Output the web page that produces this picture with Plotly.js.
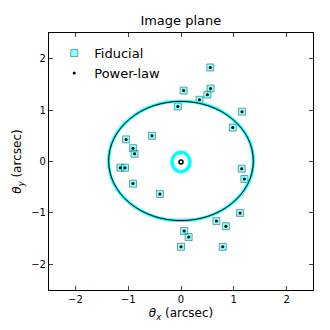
<!DOCTYPE html>
<html>
<head>
<meta charset="utf-8">
<script src="https://cdn.plot.ly/plotly-3.0.1.min.js"></script>
<style>body{margin:0;background:#fff}</style>
</head>
<body>
<div id="plane" style="width:330px;height:330px"></div>
<script>
// image positions (arcsec)
var fidX = [0.555, 0.05, 0.56, 0.50, 0.35, -0.06, 1.155, 0.98, -0.55, -1.04, -0.91, -0.88, -1.15, -1.06, 1.15, 1.20, -0.91, -0.40, 1.12, 0.67, 0.85, 0.06, 0.145, 0.0, 0.79];
var fidY = [1.83, 1.38, 1.42, 1.30, 1.20, 1.07, 0.97, 0.66, 0.50, 0.43, 0.26, 0.15, -0.12, -0.12, -0.14, -0.34, -0.43, -0.63, -1.00, -1.16, -1.26, -1.35, -1.47, -1.66, -1.66];
var plX = fidX.slice();
var plY = fidY.slice();
var srcX = [0.0];
var srcY = [-0.01];

// critical curve / caustic extents
var critX = [-1.37, 1.37];
var critY = [-1.15, 1.17];
var causX = [-0.17, 0.17];
var causY = [-0.2, 0.18];

var fiducial = {
    x: fidX, y: fidY,
    mode: 'markers', type: 'scatter', name: 'Fiducial',
    marker: {symbol: 'square', size: 7, color: 'rgba(0,255,255,0.45)',
             line: {color: 'rgba(0,80,80,0.5)', width: 1}}
};
var powerlaw = {
    x: plX, y: plY,
    mode: 'markers', type: 'scatter', name: 'Power-law',
    marker: {symbol: 'circle', size: 3, color: 'black'}
};
var source = {
    x: srcX, y: srcY,
    mode: 'markers', type: 'scatter', showlegend: false,
    marker: {symbol: 'circle-open', size: 4, color: 'black', line: {width: 1.5}}
};

var axisStyle = {
    range: [-2.5, 2.5], dtick: 1, ticks: 'inside', ticklen: 4,
    showline: true, linecolor: 'black', linewidth: 1.2, mirror: 'ticks',
    showgrid: false, zeroline: false, tickfont: {size: 10, color: 'black'}
};

var layout = {
    width: 330, height: 330,
    margin: {l: 49, r: 17, t: 33, b: 40},
    paper_bgcolor: 'white', plot_bgcolor: 'white',
    font: {family: 'DejaVu Sans', color: 'black'},
    title: {text: 'Image plane', font: {size: 13}, x: 0.548, xanchor: 'center', y: 0.925, yanchor: 'bottom'},
    xaxis: Object.assign({}, axisStyle, {title: {text: '<i>θ<sub>x</sub></i> (arcsec)', font: {size: 12}, standoff: 4}}),
    yaxis: Object.assign({}, axisStyle, {title: {text: '<i>θ<sub>y</sub></i> (arcsec)', font: {size: 12}, standoff: 6}}),
    legend: {x: 0.02, y: 0.98, xanchor: 'left', yanchor: 'top', bgcolor: 'rgba(0,0,0,0)',
             font: {size: 13}, tracegroupgap: 0, itemwidth: 30},
    shapes: [
        {type: 'circle', xref: 'x', yref: 'y', x0: critX[0], x1: critX[1], y0: critY[0], y1: critY[1],
         line: {color: 'cyan', width: 3}},
        {type: 'circle', xref: 'x', yref: 'y', x0: critX[0], x1: critX[1], y0: critY[0], y1: critY[1],
         line: {color: 'black', width: 1}},
        {type: 'circle', xref: 'x', yref: 'y', x0: causX[0], x1: causX[1], y0: causY[0], y1: causY[1],
         line: {color: 'cyan', width: 3.5}}
    ]
};

Plotly.newPlot('plane', [fiducial, powerlaw, source], layout, {displayModeBar: false});
</script>
</body>
</html>
